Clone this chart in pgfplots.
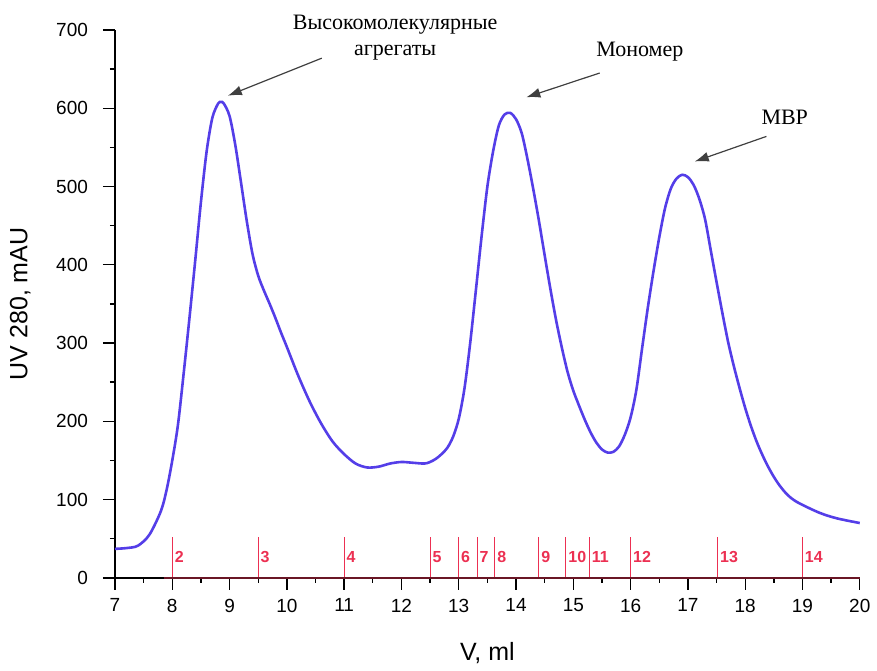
\documentclass[border=0pt]{standalone}
\usepackage{pgfplots}
\pgfplotsset{compat=1.18}
\usepackage{pgfplotstable}
\usepackage{fontspec}
\setmainfont{Liberation Sans}
\newfontfamily\annfont{Liberation Serif}
\usetikzlibrary{arrows.meta}
\definecolor{trace}{RGB}{84,62,232}
\definecolor{frac}{RGB}{236,48,82}

\pgfplotstableread{
x y
7.0 37
7.2 38
7.4 41
7.6 55
7.8 85
7.9 112
8.0 150
8.1 196
8.2 262
8.3 332
8.4 405
8.5 480
8.6 545
8.7 588
8.8 606
8.85 608
8.9 606
9.0 590
9.1 553
9.2 505
9.3 456
9.4 414
9.5 386
9.6 367
9.7 350
9.8 332
9.9 313
10.0 295
10.2 258
10.4 225
10.6 197
10.8 174
11.0 158
11.2 146
11.4 141
11.6 142
11.8 146
12.0 148
12.2 147
12.4 146
12.5 148
12.6 152
12.7 158
12.8 166
12.9 180
13.0 203
13.1 242
13.2 300
13.3 368
13.4 437
13.5 500
13.6 545
13.7 578
13.8 592
13.9 594
14.0 586
14.1 568
14.2 535
14.3 497
14.4 456
14.5 412
14.6 369
14.7 329
14.8 294
14.9 263
15.0 239
15.1 220
15.2 202
15.3 186
15.4 173
15.5 164
15.6 160
15.7 161
15.8 168
15.9 183
16.0 205
16.1 240
16.2 293
16.3 345
16.4 392
16.5 435
16.6 472
16.7 497
16.8 510
16.9 515
17.0 512
17.1 502
17.2 484
17.3 458
17.4 418
17.5 378
17.6 339
17.7 302
17.8 271
17.9 243
18.0 217
18.1 194
18.2 174
18.3 157
18.4 142
18.5 129
18.6 118
18.7 109
18.8 102
18.95 95
19.3 83
19.6 76
20.0 70
}\trace

\pgfplotstableread{
x y lab
8.0 52 2
9.5 52 3
11.0 52 4
12.5 52 5
13.0 52 6
13.32 52 7
13.63 52 8
14.4 52 9
14.87 52 10
15.28 52 11
16.0 52 12
17.52 52 13
19.0 52 14
}\fractions

\begin{document}
\begin{tikzpicture}
  \begin{axis}[
      scale only axis,
      width=372.5pt, height=274pt,
      xmin=7, xmax=20, ymin=0, ymax=700,
      axis lines=left, axis line style={-, line width=0.7pt},
      xtick={7,8,...,20}, ytick={0,100,...,700},
      minor x tick num=1, minor y tick num=1,
      tick align=outside,
      major tick length=6pt, minor tick length=2.5pt,
      tick style={black, line width=0.7pt},
      clip=false,
      xlabel={V, ml}, ylabel={UV 280, mAU},
      label style={font=\fontsize{12.5}{14}\selectfont},
      xlabel style={yshift=-8pt},
      ylabel style={yshift=6pt},
      tick label style={font=\fontsize{9.5}{11}\selectfont},
      yticklabel style={xshift=-4pt},
      xticklabel style={yshift=-1pt},
      /pgf/number format/assume math mode=true,
    ]
    %% fraction marks
    \addplot[frac, line width=0.5pt, ycomb, mark=none,
      point meta=explicit symbolic,
      nodes near coords,
      nodes near coords style={anchor=west, yshift=-9.8pt, xshift=0pt,
        inner sep=1pt, text=frac, font=\fontsize{8}{9}\selectfont\bfseries}]
      table[x=x, y=y, meta=lab] {\fractions};
    %% baseline tint
    \addplot[black!55!frac, line width=0.7pt, mark=none] coordinates {(7.85,0) (20,0)};
    %% UV trace
    \addplot[trace, line width=1.3pt, smooth, mark=none] table[x=x, y=y] {\trace};

    %% annotations
    \node[font=\annfont\fontsize{11}{13}\selectfont, align=center, anchor=center]
      at (axis cs:11.89,690) {Высокомолекулярные\\агрегаты};
    \draw[black!75, line width=0.6pt, -{Latex[length=7pt, width=5pt]}]
      (axis cs:10.61,664) -- (axis cs:8.97,616);
    \node[font=\annfont\fontsize{11}{13}\selectfont] at (axis cs:16.16,672) {Мономер};
    \draw[black!75, line width=0.6pt, -{Latex[length=7pt, width=5pt]}]
      (axis cs:15.46,645) -- (axis cs:14.18,614);
    \node[font=\annfont\fontsize{11}{13}\selectfont] at (axis cs:18.69,588) {MBP};
    \draw[black!75, line width=0.6pt, -{Latex[length=7pt, width=5pt]}]
      (axis cs:18.37,564) -- (axis cs:17.12,532);

    %% picture frame matching the reference size
    \path (axis cs:4.993,-116.2) rectangle (axis cs:20.296,738.3);
  \end{axis}
\end{tikzpicture}
\end{document}
